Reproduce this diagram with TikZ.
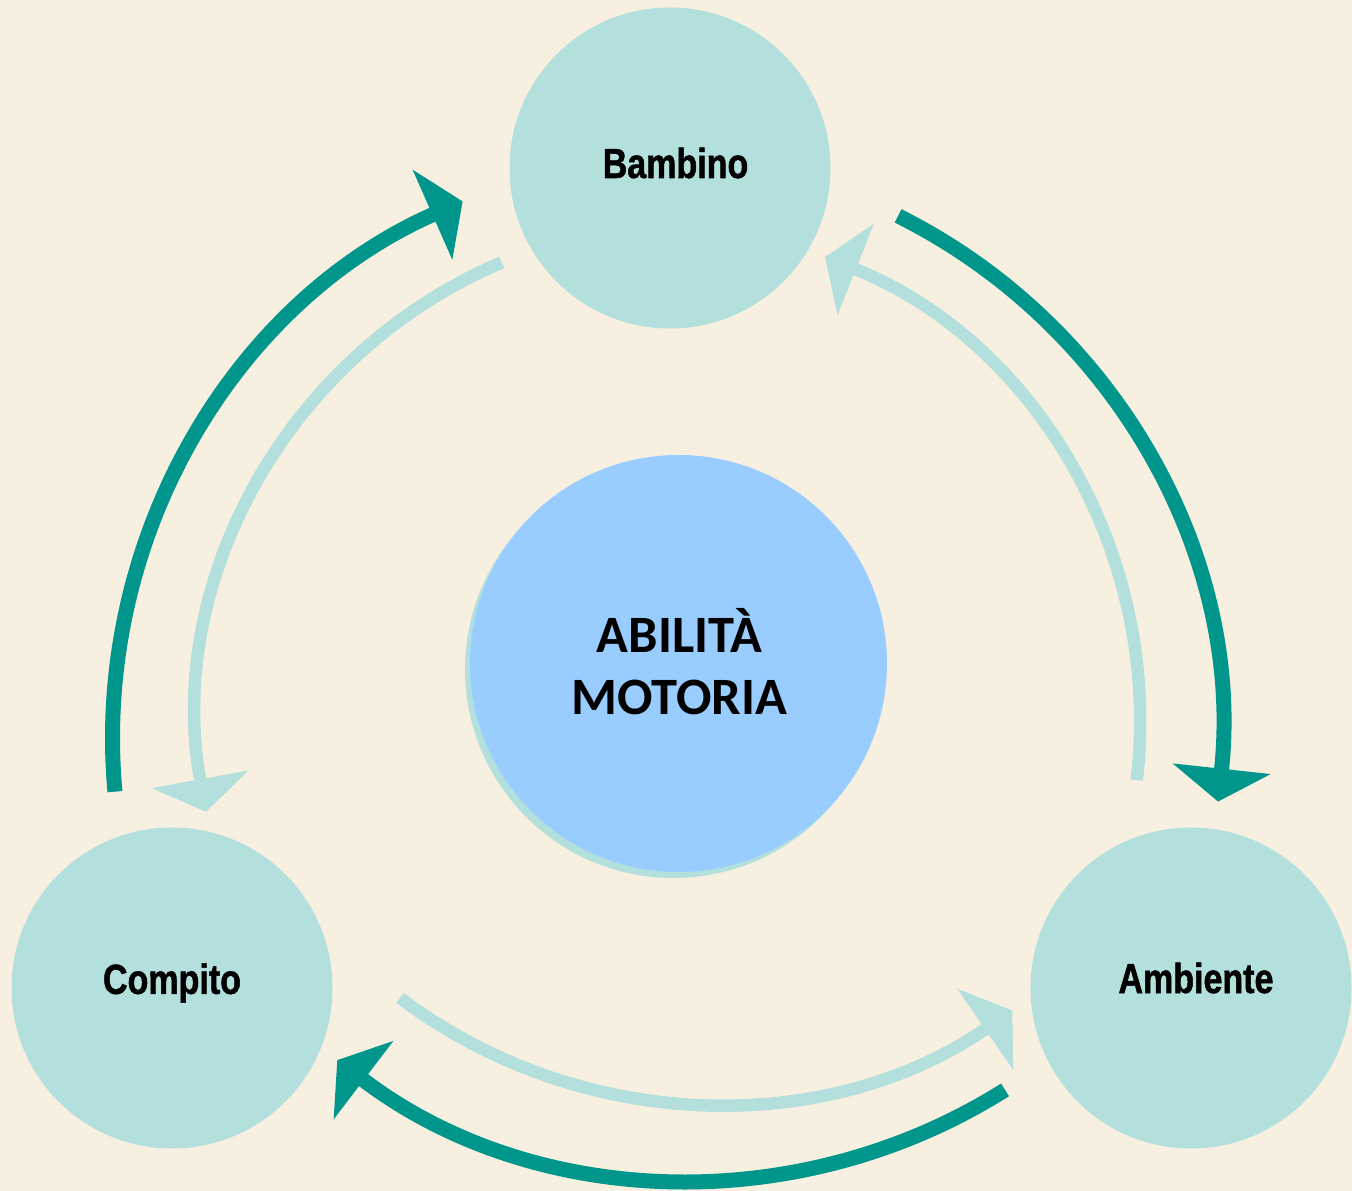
\documentclass[tikz,border=0pt]{standalone}
\usepackage{fontspec}
\usetikzlibrary{arrows.meta}
\newfontfamily\circlefont{Liberation Sans}[FakeStretch=0.81, FakeBold=1.2]
\newfontfamily\corefont{Carlito}
\definecolor{paper}{HTML}{F7F0E1}
\definecolor{mint}{HTML}{B3DFDD}
\definecolor{deepteal}{HTML}{00968B}
\definecolor{sky}{HTML}{99CCFF}
\begin{document}
\begin{tikzpicture}[x=1pt,y=1pt,
  factor/.style={circle, fill=mint, minimum size=321pt, inner sep=0pt},
  factorlabel/.style={font=\circlefont\bfseries\fontsize{42}{48}\selectfont, text=black, inner sep=0pt},
  corelabel/.style={font=\corefont\bfseries\fontsize{52.5}{62}\selectfont, text=black, inner sep=0pt, align=center},
  darkarc/.style={draw=deepteal, line width=15pt, -{Triangle[length=33pt,width=97pt]}},
  lightarc/.style={draw=mint, line width=12.5pt, -{Triangle[length=33pt,width=97pt]}},
]
% canvas
\fill[paper] (0,0) rectangle (1352,1191);
\useasboundingbox (0,0) rectangle (1352,1191);

% the three factors
\node[factor] (bam) at (670,1023) {};
\node[factor] (com) at (172,203) {};
\node[factor] (amb) at (1191,203) {};
\node[factorlabel] (bamtxt) at ([shift={(5.5,5)}]bam.center) {Bambino};
\node[factorlabel] (comtxt) at ([shift={(0,5)}]com.center) {Compito};
\node[factorlabel] (ambtxt) at ([shift={(5,10)}]amb.center) {Ambiente};

% central skill, with its offset shadow
\node[circle, fill=mint, minimum size=417pt, inner sep=0pt] (coreshadow) at (673.5,521.5) {};
\node[circle, fill=sky, minimum size=417pt, inner sep=0pt] (core) at (678.5,527.5) {};
\node[corelabel] (coretxt) at (679.5,529.5) {ABILITÀ\\MOTORIA};

% arc centres
\coordinate (c1) at (699.5,452.5);
\coordinate (c2) at (637.5,452.5);
\coordinate (c3) at (692.6,597.3);
\coordinate (c4) at (696.8,469.3);
\coordinate (c5) at (640.2,469.3);
\coordinate (c6) at (714.9,611.6);

% outer cycle: Compito -> Bambino -> Ambiente -> Compito
\draw[darkarc] ([shift={(185.2:587)}]c1) arc[start angle=185.2, end angle=113.8, radius=587];
\draw[darkarc] ([shift={(63.5:584)}]c2) arc[start angle=63.5, end angle=-6.2, radius=584];
\draw[darkarc] ([shift={(-57.8:586.4)}]c3) arc[start angle=-57.8, end angle=-127.3, radius=586.4];

% inner cycle: Bambino -> Compito -> Ambiente -> Bambino
\draw[lightarc] ([shift={(113.0:499)}]c4) arc[start angle=113.0, end angle=190.4, radius=499];
\draw[lightarc] ([shift={(-126.95:523.8)}]c6) arc[start angle=-126.95, end angle=-55.4, radius=523.8];
\draw[lightarc] ([shift={(-6.7:500)}]c5) arc[start angle=-6.7, end angle=68.3, radius=500];
\end{tikzpicture}
\end{document}
